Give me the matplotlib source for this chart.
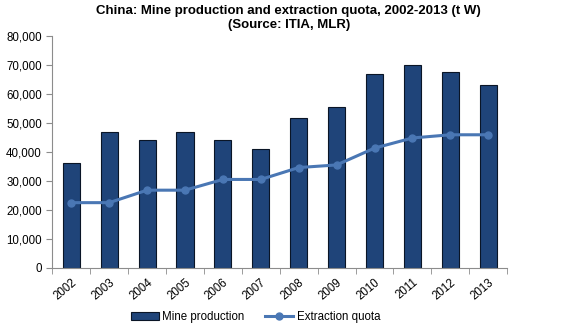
import numpy as np
import matplotlib.pyplot as plt
from matplotlib.ticker import FuncFormatter, FixedLocator

plt.rcParams['font.family'] = ['Liberation Sans', 'DejaVu Sans']

# --- Data (t W) ---
years = ['2002', '2003', '2004', '2005', '2006', '2007',
         '2008', '2009', '2010', '2011', '2012', '2013']
mine_production = [36000, 47000, 44000, 47000, 44000, 41000,
                   51700, 55600, 66900, 70000, 67500, 63000]
extraction_quota = [22500, 22500, 26800, 26800, 30500, 30500,
                    34600, 35500, 41300, 44800, 45900, 45900]

BAR_COLOR = '#1f4479'
LINE_COLOR = '#4a77b4'
AXIS_COLOR = '#8c8c8c'

fig = plt.figure(figsize=(5.81, 3.32), dpi=100)
ax = fig.add_axes([0.09, 0.193, 0.783, 0.699])

x = np.arange(len(years))
bars = ax.bar(x, mine_production, width=0.45, color=BAR_COLOR, edgecolor='#0a1526',
              linewidth=0.8, label='Mine production', zorder=2)
line, = ax.plot(x, extraction_quota, color=LINE_COLOR, linewidth=2.2, marker='o',
                markersize=5, label='Extraction quota', zorder=3)

ax.set_xlim(-0.5, len(years) - 0.5)
ax.set_ylim(0, 80000)
ax.set_yticks(np.arange(0, 80001, 10000))
ax.yaxis.set_major_formatter(FuncFormatter(lambda v, p: f'{int(v):,}'))

# category labels centred, tick marks on the boundaries
ax.set_xticks(x)
ax.set_xticklabels(years, rotation=40, ha='right', rotation_mode='anchor')
ax.xaxis.set_minor_locator(FixedLocator(np.arange(-0.5, len(years), 1.0)))
ax.tick_params(axis='x', which='major', length=0, pad=6, labelsize=8.3)
ax.tick_params(axis='x', which='minor', length=4, color=AXIS_COLOR)
ax.tick_params(axis='y', length=4, color=AXIS_COLOR, labelsize=8.3)

for side in ('top', 'right'):
    ax.spines[side].set_visible(False)
for side in ('left', 'bottom'):
    ax.spines[side].set_color(AXIS_COLOR)

fig.text(0.497, 0.985, 'China: Mine production and extraction quota, 2002-2013 (t W)\n(Source: ITIA, MLR)',
         ha='center', va='top', fontsize=9.5, fontweight='bold', linespacing=1.2)

fig.legend([bars, line], ['Mine production', 'Extraction quota'],
           loc='lower center', bbox_to_anchor=(0.44, -0.005), ncol=2, frameon=False,
           fontsize=8.3, handlelength=2.4, handletextpad=0.3, columnspacing=1.8)

plt.savefig('out.png', dpi=100)
